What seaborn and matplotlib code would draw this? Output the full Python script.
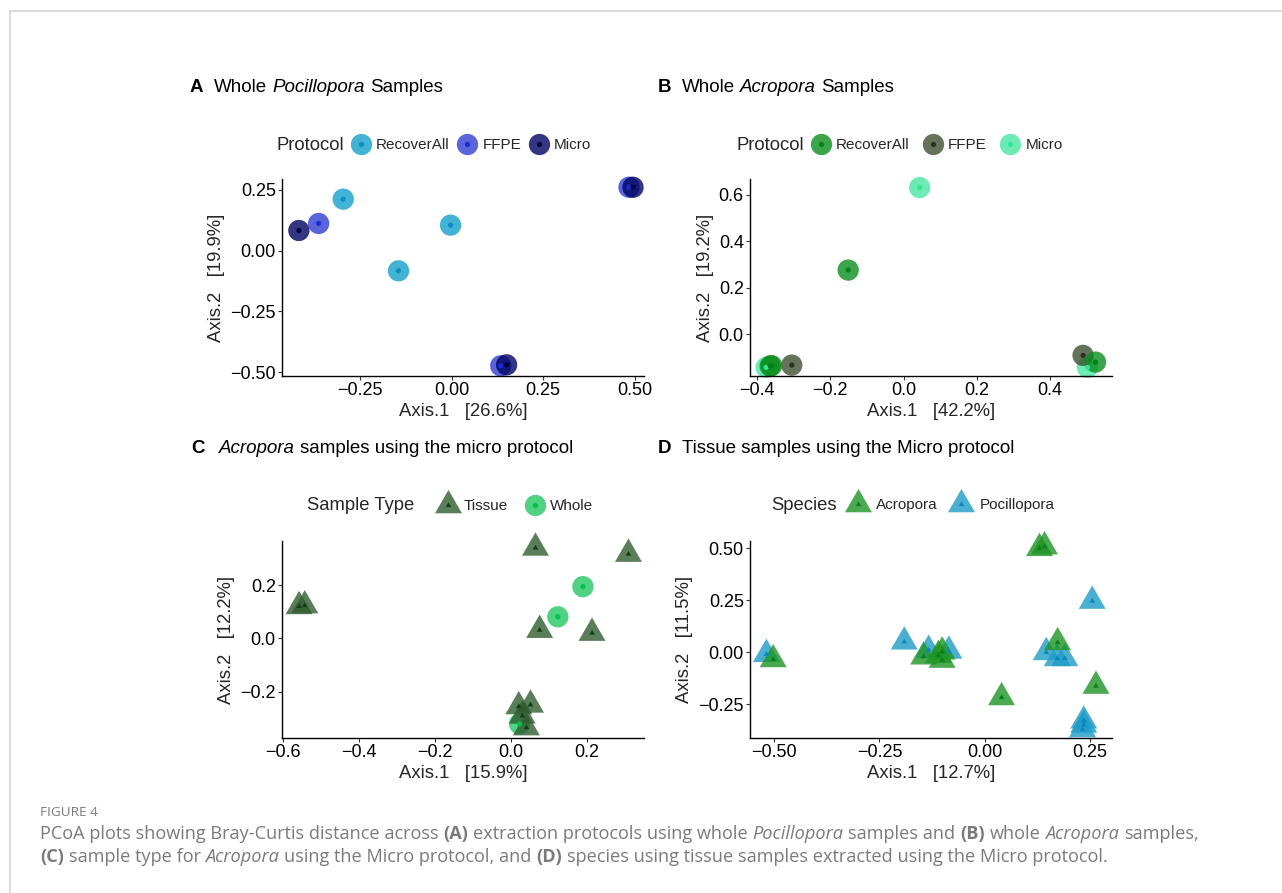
import matplotlib
matplotlib.use("Agg")
import numpy as np
import pandas as pd
import matplotlib.pyplot as plt
import seaborn as sns
from matplotlib.lines import Line2D
from matplotlib.markers import MarkerStyle
from matplotlib.path import Path
from matplotlib.ticker import FuncFormatter

# ---- data ----
# A: whole Pocillopora samples
a_recover_x = [-0.296, -0.003, -0.145]
a_recover_y = [0.212, 0.105, -0.083]
a_ffpe_x = [-0.363, 0.134, 0.484]
a_ffpe_y = [0.112, -0.474, 0.261]
a_micro_x = [-0.417, 0.150, 0.495]
a_micro_y = [0.083, -0.470, 0.261]

# B: whole Acropora samples
b_recover_x = [-0.151, -0.364, -0.360, 0.524]
b_recover_y = [0.276, -0.138, -0.136, -0.121]
b_ffpe_x = [-0.305, 0.490]
b_ffpe_y = [-0.134, -0.092]
b_micro_x = [0.044, -0.375, 0.502]
b_micro_y = [0.632, -0.144, -0.144]

# C: Acropora, micro protocol, by sample type
c_tissue_x = [-0.558, -0.543, 0.065, 0.310, 0.076, 0.214, 0.021, 0.052, 0.041, 0.030]
c_tissue_y = [0.120, 0.123, 0.339, 0.316, 0.031, 0.020, -0.255, -0.249, -0.334, -0.290]
c_whole_x = [0.190, 0.124, 0.023]
c_whole_y = [0.194, 0.081, -0.320]

# D: tissue samples, micro protocol, by species
d_acro_x = [-0.502, 0.130, 0.142, 0.173, 0.264, 0.040, -0.145, -0.101, -0.101, -0.110]
d_acro_y = [-0.035, 0.500, 0.508, 0.047, -0.163, -0.218, -0.022, 0.002, -0.038, -0.015]
d_poci_x = [-0.518, -0.191, -0.133, -0.085, 0.255, 0.146, 0.172, 0.190, 0.235, 0.235, 0.232]
d_poci_y = [-0.010, 0.050, 0.010, 0.006, 0.246, -0.001, -0.030, -0.030, -0.330, -0.350, -0.372]

protocols = ["RecoverAll", "FFPE", "Micro"]
sample_types = ["Tissue", "Whole"]
species = ["Acropora", "Pocillopora"]

sns.set_theme(style="ticks")
plt.rcParams["font.family"] = ["Liberation Sans", "DejaVu Sans"]

W, H = 1282, 893
fig = plt.figure(figsize=(W / 100, H / 100), dpi=100)

tri = MarkerStyle(Path([(-1, -0.577), (1, -0.577), (0, 1.155), (-1, -0.577)], closed=True))
S_CIRC, S_TRI = 235, 503
S_CDOT, S_TDOT = 14, 22
ALPHA = 0.8
LEG_FS = 11
TITLE_FS = 13.3


def make_df(groups):
    frames = [pd.DataFrame({"x": xs, "y": ys, "g": g}) for g, xs, ys in groups]
    return pd.concat(frames, ignore_index=True)


def fmt(dec):
    def f(v, pos):
        if abs(v) < 1e-9:
            v = 0.0
        return f"{v:.{dec}f}".replace("-", "\u2212")
    return FuncFormatter(f)


def panel(px, df, pal, dotpal, mk, sizes, dotsizes, xlim, ylim, xt, yt, dec, xlab, ylab):
    l, t, r, b = px
    ax = fig.add_axes([l / W, 1 - b / H, (r - l) / W, (b - t) / H])
    sns.scatterplot(data=df, x="x", y="y", hue="g", palette=pal, style="g", markers=mk,
                    size="g", sizes=sizes, alpha=ALPHA, linewidth=0, legend=False,
                    clip_on=False, ax=ax)
    sns.scatterplot(data=df, x="x", y="y", hue="g", palette=dotpal, style="g", markers=mk,
                    size="g", sizes=dotsizes, linewidth=0, legend=False, clip_on=False, ax=ax)
    ax.set_xlim(*xlim)
    ax.set_ylim(*ylim)
    ax.set_xticks(xt)
    ax.set_yticks(yt)
    ax.xaxis.set_major_formatter(fmt(dec[0]))
    ax.yaxis.set_major_formatter(fmt(dec[1]))
    ax.tick_params(labelsize=13, length=3, width=0.8, color="#333333", pad=1.5, labelcolor="black")
    ax.set_xlabel(xlab, fontsize=13.3, labelpad=2.5)
    ax.set_ylabel(ylab, fontsize=13.3, labelpad=3.5)
    for s in ["top", "right"]:
        ax.spines[s].set_visible(False)
    for s in ["left", "bottom"]:
        ax.spines[s].set_color("black")
        ax.spines[s].set_linewidth(1.0)
    return ax


def legend(x, y, title, labels, pal, dotpal, mk, sizes, dotsizes, hl, pad, cs, tx):
    handles = []
    for g in labels:
        big = Line2D([], [], ls="none", marker=mk[g], ms=np.sqrt(sizes[g]), color=pal[g],
                     alpha=ALPHA, mew=0)
        dot = Line2D([], [], ls="none", marker=mk[g], ms=np.sqrt(dotsizes[g]), color=dotpal[g], mew=0)
        handles.append((big, dot))
    fig.text(tx / W, 1 - y / H, title, fontsize=TITLE_FS, va="center", ha="left")
    fig.legend(handles, labels, loc="center left", bbox_to_anchor=(x / W, 1 - y / H), ncol=len(labels),
               frameon=False, fontsize=LEG_FS, handlelength=hl, handletextpad=pad,
               columnspacing=cs, borderpad=0, borderaxespad=0)


# ---- panel A ----
pal_a = {"RecoverAll": "#139fcb", "FFPE": "#313dd3", "Micro": "#000563"}
dot_a = {"RecoverAll": "#0a8fc0", "FFPE": "#1f2ad6", "Micro": "#000240"}
mk_o = {g: "o" for g in protocols}
sz_o = {g: S_CIRC for g in protocols}
dsz_o = {g: S_CDOT for g in protocols}
df_a = make_df([("RecoverAll", a_recover_x, a_recover_y), ("FFPE", a_ffpe_x, a_ffpe_y),
                ("Micro", a_micro_x, a_micro_y)])
panel((282, 179, 644, 376), df_a, pal_a, dot_a, mk_o, sz_o, dsz_o, (-0.463, 0.525), (-0.516, 0.295),
      [-0.25, 0, 0.25, 0.5], [-0.5, -0.25, 0, 0.25], (2, 2), "Axis.1   [26.6%]", "Axis.2   [19.9%]")
legend(350.5, 145, "Protocol", protocols, pal_a, dot_a, mk_o, sz_o, dsz_o, 1.4, 0.28, 0.45, 276)

# ---- panel B ----
pal_b = {"RecoverAll": "#0b8e1e", "FFPE": "#3d5031", "Micro": "#4ae6a1"}
dot_b = {"RecoverAll": "#00801a", "FFPE": "#263320", "Micro": "#2ee895"}
df_b = make_df([("Micro", b_micro_x, b_micro_y), ("FFPE", b_ffpe_x, b_ffpe_y),
                ("RecoverAll", b_recover_x, b_recover_y)])
panel((750, 179, 1112, 376), df_b, pal_b, dot_b, mk_o, sz_o, dsz_o, (-0.419, 0.569), (-0.181, 0.669),
      [-0.4, -0.2, 0, 0.2, 0.4], [0, 0.2, 0.4, 0.6], (1, 1), "Axis.1   [42.2%]", "Axis.2   [19.2%]")
legend(810, 145, "Protocol", protocols, pal_b, dot_b, mk_o, sz_o, dsz_o, 1.4, 0.28, 0.85, 737)

# ---- panel C ----
pal_c = {"Tissue": "#315c31", "Whole": "#24c763"}
dot_c = {"Tissue": "#173d17", "Whole": "#00c050"}
mk_c = {"Tissue": tri, "Whole": "o"}
sz_c = {"Tissue": S_TRI, "Whole": S_CIRC}
dsz_c = {"Tissue": S_TDOT, "Whole": S_CDOT}
df_c = make_df([("Whole", c_whole_x, c_whole_y), ("Tissue", c_tissue_x, c_tissue_y)])
panel((282, 541, 644, 738), df_c, pal_c, dot_c, mk_c, sz_c, dsz_c, (-0.603, 0.351), (-0.373, 0.365),
      [-0.6, -0.4, -0.2, 0, 0.2], [-0.2, 0, 0.2], (1, 1), "Axis.1   [15.9%]", "Axis.2   [12.2%]")
legend(434.5, 506, "Sample Type", sample_types, pal_c, dot_c, mk_c, sz_c, dsz_c, 1.76, 0.12, 0.9, 307)

# ---- panel D ----
pal_d = {"Acropora": "#1e9524", "Pocillopora": "#1e9bc7"}
dot_d = {"Acropora": "#0a8018", "Pocillopora": "#0a88bb"}
mk_d = {g: tri for g in species}
sz_d = {g: S_TRI for g in species}
dsz_d = {g: S_TDOT for g in species}
df_d = make_df([("Pocillopora", d_poci_x, d_poci_y), ("Acropora", d_acro_x, d_acro_y)])
panel((750, 541, 1112, 738), df_d, pal_d, dot_d, mk_d, sz_d, dsz_d, (-0.557, 0.302), (-0.413, 0.535),
      [-0.5, -0.25, 0, 0.25], [-0.25, 0, 0.25, 0.5], (2, 2), "Axis.1   [12.7%]", "Axis.2   [11.5%]")
legend(844.5, 505, "Species", species, pal_d, dot_d, mk_d, sz_d, dsz_d, 1.76, 0.32, 0.64, 771)


# ---- mixed-style text (panel titles, caption) ----
def rich(x, y, pieces, size, color, family):
    r = fig.canvas.get_renderer()
    probe = [fig.text(0, 0, s, fontsize=size, family=family) for s in ("a a", "aa")]
    sp = probe[0].get_window_extent(r).width - probe[1].get_window_extent(r).width
    for p in probe:
        p.remove()
    for text, weight, style in pieces:
        lead = len(text) - len(text.lstrip(" "))
        trail = len(text) - len(text.rstrip(" "))
        x += lead * sp
        t = fig.text(x / W, 1 - y / H, text.strip(" "), fontsize=size, color=color, family=family,
                     weight=weight, style=style, va="baseline", ha="left")
        x += t.get_window_extent(r).width + trail * sp


N, B_, I_ = ("normal", "normal"), ("bold", "normal"), ("normal", "italic")
sans = ["Liberation Sans", "DejaVu Sans"]
rich(190, 92, [("A", *B_)], 13.5, "black", sans)
rich(214, 92, [("Whole ", *N), ("Pocillopora", *I_), (" Samples", *N)], 13.5, "black", sans)
rich(658, 92, [("B", *B_)], 13.5, "black", sans)
rich(682, 92, [("Whole ", *N), ("Acropora", *I_), (" Samples", *N)], 13.5, "black", sans)
rich(191, 453, [("C", *B_)], 13.5, "black", sans)
rich(219, 453, [("Acropora", *I_), (" samples using the micro protocol", *N)], 13.5, "black", sans)
rich(658, 453, [("D", *B_)], 13.5, "black", sans)
rich(682, 453, [("Tissue samples using the Micro protocol", *N)], 13.5, "black", sans)

cap = ["Open Sans", "DejaVu Sans"]
grey = "#7a7a7a"
fig.text(40 / W, 1 - 815.5 / H, "FIGURE 4", fontsize=9.7, color=grey, family=cap, va="baseline")
rich(40, 839, [("PCoA plots showing Bray-Curtis distance across ", *N), ("(A)", *B_),
               (" extraction protocols using whole ", *N), ("Pocillopora", *I_), (" samples and ", *N),
               ("(B)", *B_), (" whole ", *N), ("Acropora", *I_), (" samples,", *N)], 13.1, grey, cap)
rich(40, 862, [("(C)", *B_), (" sample type for ", *N), ("Acropora", *I_),
               (" using the Micro protocol, and ", *N), ("(D)", *B_),
               (" species using tissue samples extracted using the Micro protocol.", *N)], 13.1, grey, cap)

# page frame lines
fig.add_artist(Line2D([9.5 / W, 1], [1 - 10.5 / H] * 2, transform=fig.transFigure, color="#d4d4d4", lw=1.2))
fig.add_artist(Line2D([9.5 / W, 9.5 / W], [1 - 10.5 / H, 0], transform=fig.transFigure, color="#d4d4d4", lw=1.2))

fig.savefig("out.png", dpi=100)
